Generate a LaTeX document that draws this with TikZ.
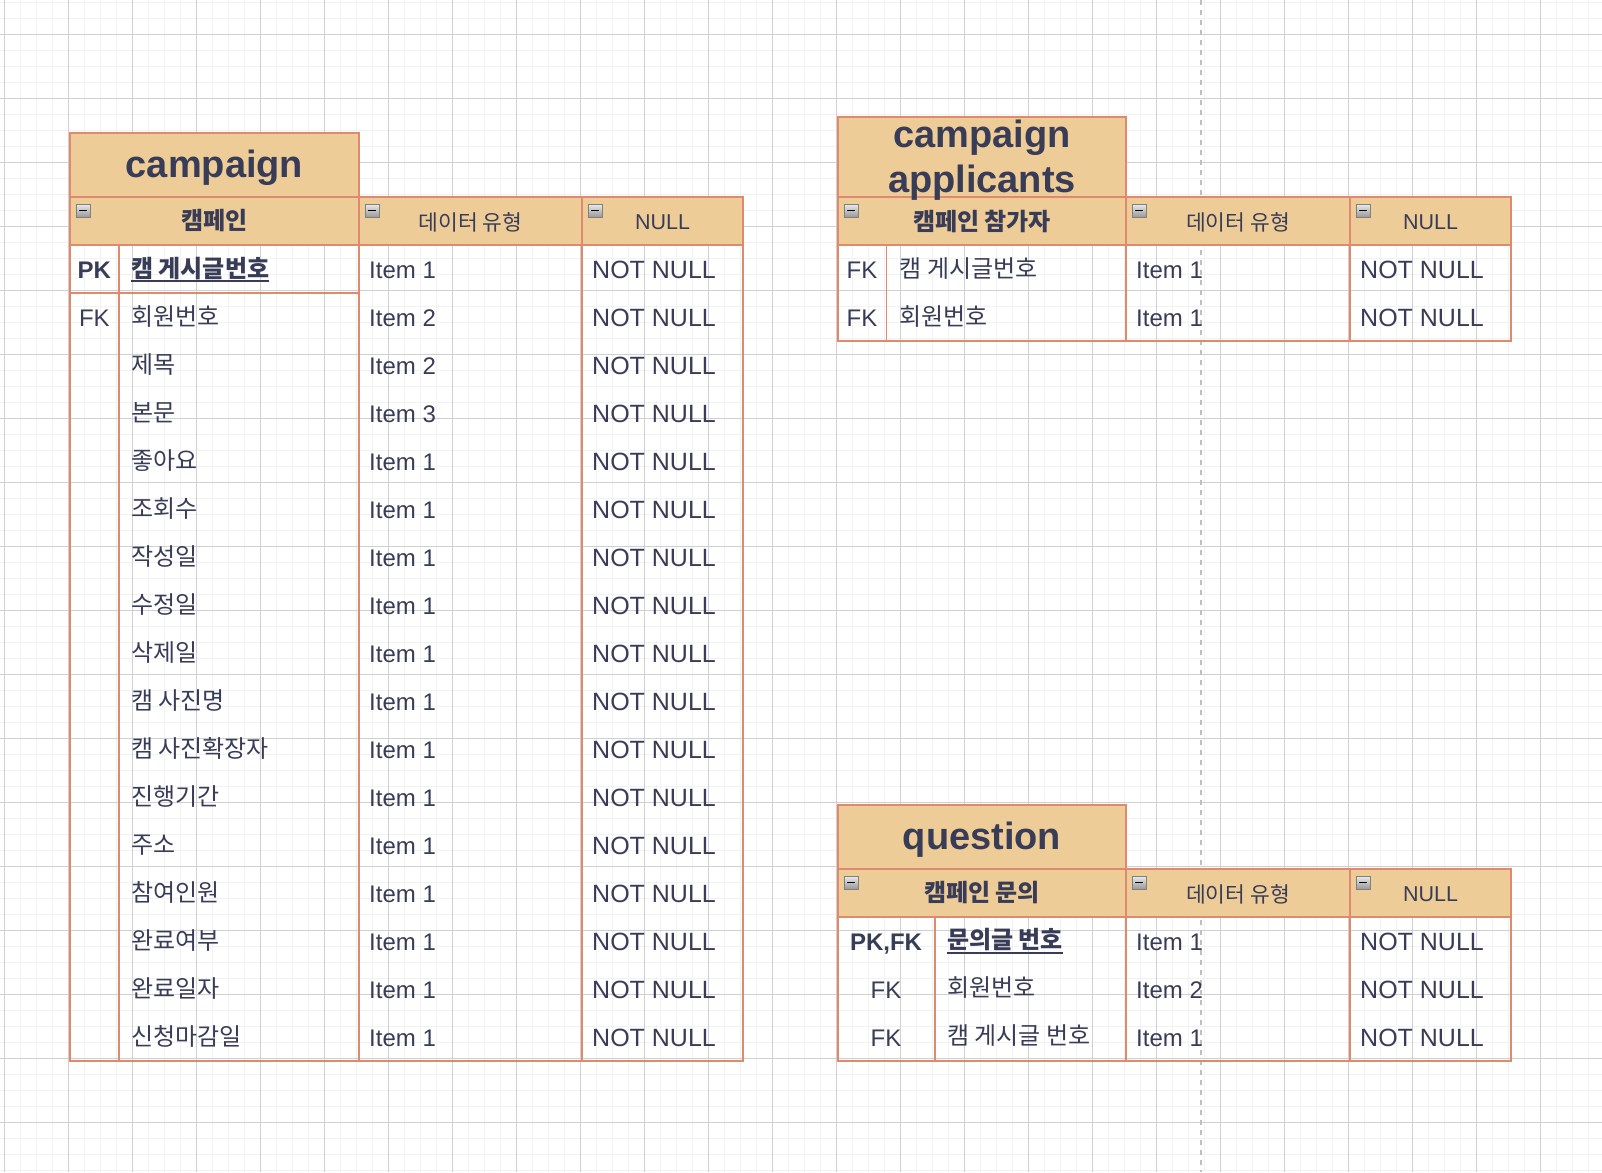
\documentclass[tikz,border=0pt]{standalone}
\usepackage{fontspec}
\setmainfont{Liberation Sans}
\newfontfamily\krfont{Noto Sans CJK KR}

\definecolor{ink}{HTML}{393C56}
\definecolor{tblline}{HTML}{DF8A6E}
\definecolor{tblfill}{HTML}{EDCC97}
\definecolor{gridlight}{HTML}{F2F2F2}
\definecolor{griddark}{HTML}{D0D0D0}

\newcommand\ulkey[1]{\setbox0=\hbox{#1}\rlap{\rule[-5pt]{\wd0}{1.8pt}}\box0}

\tikzset{
  gridminor/.style={draw=gridlight, line width=1.5pt},
  gridmajor/.style={draw=griddark, line width=1pt},
  guide/.style={draw=black!25, line width=1.8pt, dash pattern=on 5pt off 5pt},
  tbl/.style={draw=tblline, line width=1.8pt},
  head/.style={tbl, fill=tblfill},
  minusicon/.style={draw=black!50, line width=0.9pt, top color=black!8, bottom color=black!40},
  tname/.style={text=ink, inner sep=0, align=center, font=\fontsize{38}{45}\selectfont\bfseries},
  hkr/.style={text=ink, inner sep=0, font=\krfont\fontsize{24}{28}\selectfont\bfseries},
  htype/.style={text=ink, inner sep=0, font=\krfont\fontsize{21.5}{25}\selectfont},
  hnull/.style={text=ink, inner sep=0, font=\fontsize{21.5}{25}\selectfont},
  rowtxt/.style={anchor=base west, text=ink, inner sep=0, font=\fontsize{24}{28}\selectfont},
  nulltxt/.style={rowtxt, font=\fontsize{25}{29}\selectfont},
  rowkr/.style={anchor=base west, text=ink, inner sep=0, font=\krfont\fontsize{24}{28}\selectfont},
  rowkey/.style={anchor=base, text=ink, inner sep=0, font=\fontsize{24}{28}\selectfont}
}

\begin{document}
\begin{tikzpicture}[x=1pt,y=-1pt]
  \useasboundingbox (0,0) rectangle (1602,1172);

  % background grid
  \foreach \i in {0,...,99}
    \draw[gridminor] ({4.3+16*\i},0) -- ({4.3+16*\i},1172);
  \foreach \i in {0,...,73}
    \draw[gridminor] (0,{2.3+16*\i}) -- (1602,{2.3+16*\i});
  \foreach \i in {0,...,24}
    \draw[gridmajor] ({4.3+64*\i},0) -- ({4.3+64*\i},1172);
  \foreach \i in {0,...,17}
    \draw[gridmajor] (0,{34.3+64*\i}) -- (1602,{34.3+64*\i});
  \draw[guide] (1200.7,0) -- (1200.7,1172);

  % campaign
  \draw[head] (70,133) rectangle (359,197);
  \draw[tbl] (70,197) rectangle (359,1061);
  \draw[tbl] (359,197) rectangle (582,1061);
  \draw[tbl] (582,197) rectangle (743,1061);
  \draw[head] (70,197) rectangle (359,245);
  \draw[head] (359,197) rectangle (582,245);
  \draw[head] (582,197) rectangle (743,245);
  \draw[tbl] (118.7,245) -- (118.7,1061);
  \draw[tbl] (70,293) -- (359,293);

  \node[tname, anchor=base] (camp-title) at (214.5,177.3) {campaign};
  \node[hkr] (camp-head) at (214.5,221) {캠페인};
  \node[htype] (camp-typehead) at (470.5,222.5) {데이터 유형};
  \node[hnull] (camp-nullhead) at (662.5,222.5) {NULL};

  \node[rowkey, font=\fontsize{24}{28}\selectfont\bfseries] (camp-key1) at (94.4,278.5) {PK};
  \node[rowkr, font=\krfont\fontsize{24}{28}\selectfont\bfseries] (camp-name1) at (131,277) {\ulkey{캠 게시글번호}};
  \node[rowtxt] (camp-type1) at (369,278.5) {Item 1};
  \node[nulltxt] (camp-null1) at (592,278.5) {NOT NULL};
  \node[rowkey] (camp-key2) at (94.4,326.5) {FK};

  \foreach \n/\t [count=\i from 2] in {회원번호/2,제목/2,본문/3,좋아요/1,조회수/1,작성일/1,
      수정일/1,삭제일/1,캠 사진명/1,캠 사진확장자/1,진행기간/1,주소/1,참여인원/1,
      완료여부/1,완료일자/1,신청마감일/1} {
    \node[rowkr] (camp-name\i) at (131,{245+48*(\i-1)+32}) {\n};
    \node[rowtxt] (camp-type\i) at (369,{245+48*(\i-1)+33.5}) {Item \t};
    \node[nulltxt] (camp-null\i) at (592,{245+48*(\i-1)+33.5}) {NOT NULL};
  }

  % campaign applicants
  \draw[head] (838,117) rectangle (1126,197);
  \draw[tbl] (838,197) rectangle (1126,341);
  \draw[tbl] (1126,197) rectangle (1350,341);
  \draw[tbl] (1350,197) rectangle (1511,341);
  \draw[head] (838,197) rectangle (1126,245);
  \draw[head] (1126,197) rectangle (1350,245);
  \draw[head] (1350,197) rectangle (1511,245);
  \draw[tbl] (886.5,245) -- (886.5,341);

  \node[tname] (app-title) at (982,159.7) {campaign\\applicants};
  \node[hkr] (app-head) at (982,221) {캠페인 참가자};
  \node[htype] (app-typehead) at (1238,222.5) {데이터 유형};
  \node[hnull] (app-nullhead) at (1430.5,222.5) {NULL};

  \foreach \n/\t [count=\i] in {캠 게시글번호/1,회원번호/1} {
    \node[rowkey] (app-key\i) at (862,{245+48*(\i-1)+33.5}) {FK};
    \node[rowkr] (app-name\i) at (899.5,{245+48*(\i-1)+32}) {\n};
    \node[rowtxt] (app-type\i) at (1136,{245+48*(\i-1)+33.5}) {Item \t};
    \node[nulltxt] (app-null\i) at (1360,{245+48*(\i-1)+33.5}) {NOT NULL};
  }

  % question
  \draw[head] (838,805) rectangle (1126,869);
  \draw[tbl] (838,869) rectangle (1126,1061);
  \draw[tbl] (1126,869) rectangle (1350,1061);
  \draw[tbl] (1350,869) rectangle (1511,1061);
  \draw[head] (838,869) rectangle (1126,917);
  \draw[head] (1126,869) rectangle (1350,917);
  \draw[head] (1350,869) rectangle (1511,917);
  \draw[tbl] (934.7,917) -- (934.7,1061);

  \node[tname, anchor=base] (qna-title) at (982,849.5) {question};
  \node[hkr] (qna-head) at (982,893) {캠페인 문의};
  \node[htype] (qna-typehead) at (1238,894.5) {데이터 유형};
  \node[hnull] (qna-nullhead) at (1430.5,894.5) {NULL};

  \node[rowkey, font=\fontsize{24}{28}\selectfont\bfseries] (qna-key1) at (886,950) {PK,FK};
  \node[rowkr, font=\krfont\fontsize{24}{28}\selectfont\bfseries] (qna-name1) at (946.8,948.5) {\ulkey{문의글 번호}};
  \node[rowkey] (qna-key2) at (886,998) {FK};
  \node[rowkr] (qna-name2) at (946.8,996.5) {회원번호};
  \node[rowkey] (qna-key3) at (886,1046) {FK};
  \node[rowkr] (qna-name3) at (946.8,1044.5) {캠 게시글 번호};
  \foreach \t [count=\i] in {1,2,1} {
    \node[rowtxt] (qna-type\i) at (1136,{917+48*(\i-1)+33.5}) {Item \t};
    \node[nulltxt] (qna-null\i) at (1360,{917+48*(\i-1)+33.5}) {NOT NULL};
  }

  % collapse icons
  \foreach \hx/\hy in {70/197,359/197,582/197,838/197,1126/197,1350/197,838/869,1126/869,1350/869} {
    \draw[minusicon] ({\hx+6},{\hy+7}) rectangle ++(14,13);
    \draw[black, line width=1.6pt] ({\hx+9},{\hy+13.5}) -- ++(8,0);
  }
\end{tikzpicture}
\end{document}
